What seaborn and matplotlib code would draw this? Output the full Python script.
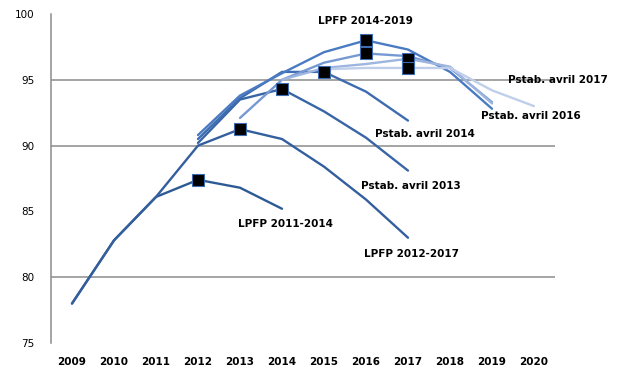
import matplotlib
matplotlib.use("Agg")
import matplotlib.pyplot as plt
import seaborn as sns
import pandas as pd

years = [2009, 2010, 2011, 2012, 2013, 2014, 2015, 2016, 2017, 2018, 2019, 2020]

lpfp_2011_2014_years = [2009, 2010, 2011, 2012, 2013, 2014]
lpfp_2011_2014 = [78.0, 82.8, 86.1, 87.4, 86.8, 85.2]

lpfp_2012_2017_years = [2009, 2010, 2011, 2012, 2013, 2014, 2015, 2016, 2017]
lpfp_2012_2017 = [78.0, 82.8, 86.1, 90.0, 91.25, 90.5, 88.4, 85.9, 83.0]

pstab_2013_years = [2012, 2013, 2014, 2015, 2016, 2017]
pstab_2013 = [90.2, 93.5, 94.3, 92.6, 90.6, 88.1]

pstab_2014_years = [2012, 2013, 2014, 2015, 2016, 2017]
pstab_2014 = [90.5, 93.6, 95.6, 95.6, 94.1, 91.9]

lpfp_2014_2019_years = [2012, 2013, 2014, 2015, 2016, 2017, 2018, 2019]
lpfp_2014_2019 = [90.8, 93.8, 95.5, 97.1, 98.0, 97.3, 95.6, 92.8]

pstab_2015_years = [2013, 2014, 2015, 2016, 2017, 2018, 2019]
pstab_2015 = [92.1, 95.0, 96.3, 97.0, 96.8, 95.9, 93.3]

pstab_2016_years = [2014, 2015, 2016, 2017, 2018, 2019]
pstab_2016 = [95.0, 95.9, 96.2, 96.6, 96.0, 93.2]

pstab_2017_years = [2015, 2016, 2017, 2018, 2019, 2020]
pstab_2017 = [95.8, 95.9, 95.9, 95.9, 94.2, 93.0]

series_names = ["LPFP 2011-2014", "LPFP 2012-2017", "Pstab. avril 2013", "Pstab. avril 2014",
                "LPFP 2014-2019", "Pstab. avril 2015", "Pstab. avril 2016", "Pstab. avril 2017"]
series_years = [lpfp_2011_2014_years, lpfp_2012_2017_years, pstab_2013_years, pstab_2014_years,
                lpfp_2014_2019_years, pstab_2015_years, pstab_2016_years, pstab_2017_years]
series_vals = [lpfp_2011_2014, lpfp_2012_2017, pstab_2013, pstab_2014,
               lpfp_2014_2019, pstab_2015, pstab_2016, pstab_2017]

# peak markers (year, value)
marker_years = [2012, 2013, 2014, 2015, 2016, 2016, 2017, 2017]
marker_vals = [87.4, 91.25, 94.3, 95.6, 98.0, 97.0, 96.6, 95.9]

colors = ["#2E5A94", "#335F9E", "#3865A6", "#3D6CB0", "#4A7BC2", "#7799D2", "#9DB5DF", "#BFCFE9"]

rows = []
for name, ys, vs in zip(series_names, series_years, series_vals):
    for y, v in zip(ys, vs):
        rows.append({"serie": name, "pos": years.index(y), "val": v})
df = pd.DataFrame(rows)
mk = pd.DataFrame({"pos": [years.index(y) for y in marker_years], "val": marker_vals})

sns.set_style("white")
plt.rcParams["font.family"] = ["DejaVu Sans"]
plt.rcParams["text.color"] = "black"
plt.rcParams["xtick.color"] = "black"
plt.rcParams["ytick.color"] = "black"

fig = plt.figure(figsize=(6.3, 3.78), dpi=100)
ax = fig.add_axes([51 / 630, 1 - 343 / 378, 504 / 630, 329 / 378])

for yv in [80, 90, 95]:
    ax.axhline(yv, color="#8C8C8C", lw=1.1, zorder=0, xmax=507 / 504)

sns.lineplot(data=df, x="pos", y="val", hue="serie", hue_order=series_names,
             palette=dict(zip(series_names, colors)), lw=1.7, legend=False, ax=ax,
             estimator=None, sort=True)
sns.scatterplot(data=mk, x="pos", y="val", marker="s", s=85, color="black",
                edgecolor="#3D6CB0", linewidth=0.8, ax=ax, zorder=5, legend=False)

ax.set_xlim(-0.5, 11.5)
ax.set_ylim(75, 100)
ax.set_xticks(range(len(years)))
ax.set_xticklabels([str(y) for y in years], fontsize=7.5, fontweight="bold", color="black")
ax.set_yticks([75, 80, 85, 90, 95, 100])
ax.set_yticklabels(["75", "80", "85", "90", "95", "100"], fontsize=7.5, color="black")
ax.tick_params(axis="x", length=0, pad=10)
ax.tick_params(axis="y", length=0, pad=12)
ax.set_xticks([-0.5 + k for k in [1, 4, 5, 6, 8, 9, 10]], minor=True)
ax.tick_params(axis="x", which="minor", length=5, color="#8C8C8C", width=1, direction="out")
ax.set_xlabel("")
ax.set_ylabel("")
for s in ["top", "right", "bottom"]:
    ax.spines[s].set_visible(False)
ax.spines["left"].set_color("#8C8C8C")
ax.spines["left"].set_linewidth(1.1)

labels = [("LPFP 2014-2019", 365, 21), ("Pstab. avril 2017", 558, 80), ("Pstab. avril 2016", 531, 116),
          ("Pstab. avril 2014", 425, 134), ("Pstab. avril 2013", 411, 186), ("LPFP 2011-2014", 285, 224),
          ("LPFP 2012-2017", 411, 254)]
for txt, px, py in labels:
    fig.text(px / 630, 1 - py / 378, txt, ha="center", va="center", fontsize=7.5,
             fontweight="bold", color="black")

fig.savefig("out.png", dpi=100)
